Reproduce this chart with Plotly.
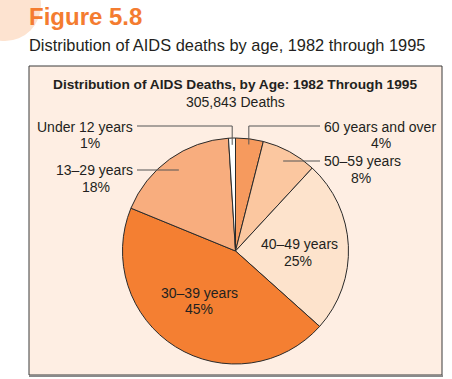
import math
import plotly.graph_objects as go

# ---- data ----
age_groups = ["60 years and over", "50–59 years", "40–49 years", "30–39 years", "13–29 years", "Under 12 years"]
percent_values = [4, 8, 25, 45, 18, 1]
percent_labels = ["4%", "8%", "25%", "45%", "18%", "1%"]
slice_colors = ["#f69a5e", "#fbc7a0", "#fde3cc", "#f47f32", "#f8ad7e", "#ffffff"]

W, H = 452, 379
CX, CY, R = 235.5, 251.0, 113.0
TXT = "#231f20"
FONT = "Liberation Sans, Arial, sans-serif"


def px(x):
    return x / W


def py(y):
    return 1 - y / H


def anchor(i, rfrac):
    tot = sum(percent_values)
    start = sum(percent_values[:i])
    mid = (start + percent_values[i] / 2) / tot * 2 * math.pi
    return CX + R * rfrac * math.sin(mid), CY - R * rfrac * math.cos(mid)


fig = go.Figure(go.Pie(
    labels=age_groups,
    values=percent_values,
    sort=False,
    direction="clockwise",
    rotation=0,
    marker=dict(colors=slice_colors, line=dict(color="#2a2a2a", width=1)),
    textinfo="none",
    hoverinfo="label+percent",
    domain=dict(x=[px(CX - R), px(CX + R)], y=[py(CY + R), py(CY - R)]),
    showlegend=False,
))

shapes = [
    # decorative circle top-left
    dict(type="circle", xref="paper", yref="paper", x0=px(-31), x1=px(41), y0=py(41), y1=py(-31),
         fillcolor="#fde3d0", line=dict(width=0), layer="below"),
    # box
    dict(type="rect", xref="paper", yref="paper", x0=px(29), x1=px(442), y0=py(375), y1=py(66),
         fillcolor="#feeee3", line=dict(color="#3a3a3a", width=1), layer="below"),
    dict(type="line", xref="paper", yref="paper", x0=px(29), x1=px(443), y0=py(376), y1=py(376),
         line=dict(color="#8a8a8a", width=2), layer="below"),
]

# leader lines computed from slice geometry
lc = dict(color="#555555", width=1)
LEFT_END, RIGHT_START = 137, 320
# Under 12 (index 5)
ax, ay = anchor(5, 0.94)
shapes += [
    dict(type="line", xref="paper", yref="paper", x0=px(LEFT_END), x1=px(ax), y0=py(126), y1=py(126), line=lc),
    dict(type="line", xref="paper", yref="paper", x0=px(ax), x1=px(ax), y0=py(126), y1=py(ay), line=lc),
]
# 60+ (index 0)
ax, ay = anchor(0, 0.95)
shapes += [
    dict(type="line", xref="paper", yref="paper", x0=px(RIGHT_START), x1=px(ax), y0=py(126), y1=py(126), line=lc),
    dict(type="line", xref="paper", yref="paper", x0=px(ax), x1=px(ax), y0=py(126), y1=py(ay), line=lc),
]
# 50-59 (index 1)
ax, ay = anchor(1, 0.92)
shapes += [dict(type="line", xref="paper", yref="paper", x0=px(RIGHT_START), x1=px(ax - 2), y0=py(161), y1=py(161), line=lc)]
# 13-29 (index 4)
ax, ay = anchor(4, 0.86)
shapes += [dict(type="line", xref="paper", yref="paper", x0=px(LEFT_END), x1=px(ax), y0=py(170), y1=py(170), line=lc)]


def ann(text, x, y, size=14, color=TXT, xanchor="center", bold=False):
    return dict(text=f"<b>{text}</b>" if bold else text, x=px(x), y=py(y), xref="paper", yref="paper",
                xanchor=xanchor, yanchor="middle", showarrow=False, borderpad=0,
                font=dict(family=FONT, size=size, color=color))


annotations = [
    ann("Figure 5.8", 28, 16, size=24, color="#f47c30", xanchor="left", bold=True),
    ann("Distribution of AIDS deaths by age, 1982 through 1995", 28, 45, size=16.4, xanchor="left"),
    ann("Distribution of AIDS Deaths, by Age: 1982 Through 1995", 235, 85, size=13.7, bold=True),
    ann("305,843 Deaths", 235, 101.5, size=14),
    ann(age_groups[5], 134, 126.5, xanchor="right"),
    ann(percent_labels[5], 90, 143),
    ann(age_groups[4], 134, 170, xanchor="right"),
    ann(percent_labels[4], 96, 187),
    ann(age_groups[0], 323, 126.5, xanchor="left"),
    ann(percent_labels[0], 381, 143),
    ann(age_groups[1], 323, 161, xanchor="left"),
    ann(percent_labels[1], 361, 178),
    ann(age_groups[2], 299, 244),
    ann(percent_labels[2], 298, 260.5),
    ann(age_groups[3], 199, 292.5),
    ann(percent_labels[3], 199, 309),
]

fig.update_layout(
    width=W, height=H,
    margin=dict(l=0, r=0, t=0, b=0),
    paper_bgcolor="#ffffff",
    plot_bgcolor="#ffffff",
    shapes=shapes,
    annotations=annotations,
)

fig.write_html("out.html", config={"displayModeBar": False},
               post_script="document.body.style.margin='0';document.body.style.padding='0';")
